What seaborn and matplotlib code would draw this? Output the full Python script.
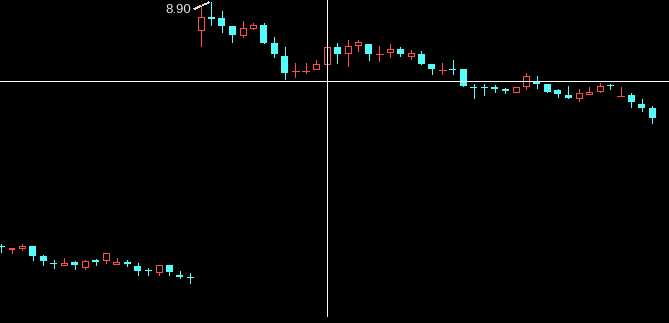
import numpy as np
import pandas as pd
import matplotlib
matplotlib.use("Agg")
import matplotlib.pyplot as plt
import seaborn as sns
from matplotlib.patches import Rectangle

# ---- data (price per candle) ----
opens = [6.46, 6.43, 6.44, 6.46, 6.36, 6.285, 6.27, 6.30, 6.25, 6.32,
         6.32, 6.28, 6.30, 6.26, 6.22, 6.20, 6.27, 6.17, 6.145, 8.62,
         8.75, 8.74, 8.66, 8.57, 8.64, 8.67, 8.49, 8.36, 8.21, 8.21,
         8.23, 8.28, 8.45, 8.39, 8.47, 8.48, 8.38, 8.40, 8.43, 8.36,
         8.38, 8.28, 8.22, 8.225, 8.23, 8.045, 8.05, 8.05, 8.03, 8.00,
         8.06, 8.11, 8.08, 8.02, 7.97, 7.94, 7.98, 8.01, 8.065, 7.96,
         7.97, 7.88, 7.84]
highs = [6.48, 6.44, 6.48, 6.46, 6.37, 6.32, 6.34, 6.31, 6.32, 6.33,
         6.39, 6.34, 6.32, 6.29, 6.24, 6.27, 6.27, 6.21, 6.19, 8.85,
         8.90, 8.81, 8.66, 8.71, 8.69, 8.69, 8.55, 8.45, 8.29, 8.29,
         8.32, 8.48, 8.49, 8.52, 8.52, 8.48, 8.46, 8.48, 8.45, 8.42,
         8.41, 8.28, 8.29, 8.32, 8.23, 8.08, 8.08, 8.07, 8.04, 8.05,
         8.19, 8.16, 8.08, 8.03, 8.06, 8.03, 8.05, 8.09, 8.08, 8.05,
         7.99, 7.93, 7.86]
lows = [6.40, 6.39, 6.42, 6.32, 6.27, 6.24, 6.27, 6.23, 6.23, 6.27,
        6.29, 6.28, 6.26, 6.17, 6.17, 6.17, 6.17, 6.14, 6.09, 8.46,
        8.67, 8.60, 8.50, 8.55, 8.63, 8.49, 8.35, 8.13, 8.15, 8.19,
        8.23, 8.28, 8.29, 8.26, 8.41, 8.32, 8.31, 8.35, 8.36, 8.33,
        8.28, 8.18, 8.18, 8.18, 8.06, 7.94, 7.97, 8.00, 7.99, 8.00,
        8.03, 8.04, 8.00, 7.95, 7.94, 7.91, 7.98, 8.00, 8.03, 7.96,
        7.85, 7.81, 7.69]
closes = [6.45, 6.44, 6.46, 6.36, 6.31, 6.28, 6.29, 6.27, 6.31, 6.30,
          6.39, 6.30, 6.28, 6.21, 6.215, 6.27, 6.20, 6.15, 6.14, 8.75,
          8.73, 8.66, 8.57, 8.64, 8.67, 8.49, 8.38, 8.19, 8.21, 8.21,
          8.28, 8.45, 8.38, 8.46, 8.50, 8.38, 8.38, 8.43, 8.38, 8.39,
          8.28, 8.23, 8.22, 8.22, 8.06, 8.04, 8.04, 8.03, 8.01, 8.05,
          8.16, 8.08, 8.00, 7.98, 7.94, 7.99, 8.00, 8.06, 8.06, 7.96,
          7.90, 7.84, 7.74]
cross_index = 31
cross_price = 8.11
peak_label = "8.90"

UP = "#FF4C4C"
DOWN = "#54FCFC"

sns.set_theme(style="dark", rc={"axes.facecolor": "black",
                                "figure.facecolor": "black"})
plt.rcParams['font.family'] = ['Liberation Sans', 'DejaVu Sans']

df = pd.DataFrame(dict(open=opens, high=highs, low=lows, close=closes))
df["idx"] = np.arange(len(df))
df["up"] = df["close"] >= df["open"]

W, H = 669, 323
fig = plt.figure(figsize=(W / 100, H / 100), dpi=100)
ax = fig.add_axes([0, 0, 1, 1])
ax.set_facecolor("black")

pxu = 10.5                     # pixels per candle slot
x0 = -1 / pxu
ax.set_xlim(x0, x0 + W / pxu)
ymax = 8.92
ax.set_ylim(ymax - 0.01 * H, ymax)
dx = 1 / pxu                   # one pixel in x data units
dy = 0.01                      # one pixel in y data units
lw = 0.72                      # one pixel in points

for r in df.itertuples():
    i = r.idx
    top = max(r.open, r.close)
    bot = min(r.open, r.close)
    if r.up:
        ax.vlines(i, top, r.high, color=UP, lw=lw, antialiased=False)
        ax.vlines(i, r.low, bot, color=UP, lw=lw, antialiased=False)
        if top - bot < dy:
            ax.hlines(top, i - 3.5 * dx, i + 3.5 * dx, color=UP, lw=lw,
                      antialiased=False)
        else:
            ax.add_patch(Rectangle((i - 3 * dx, bot), 6 * dx, top - bot,
                                   facecolor="black", edgecolor=UP, lw=lw,
                                   antialiased=False, zorder=3))
    else:
        ax.vlines(i, r.low, r.high, color=DOWN, lw=lw, antialiased=False)
        h = max(top - bot, dy)
        c = (top + bot) / 2
        ax.add_patch(Rectangle((i - 3.5 * dx, c - h / 2), 7 * dx, h,
                               facecolor=DOWN, edgecolor="none",
                               antialiased=False, zorder=3))

# crosshair
ax.axhline(cross_price, color="white", lw=lw, antialiased=False, zorder=5)
ax.vlines(cross_index, ymax - 0.01 * 316, ymax, color="white", lw=lw,
          antialiased=False, zorder=5)

# max-high annotation
imax = int(df["high"].idxmax())
ax.plot([imax - 17 * dx, imax - 1 * dx],
        [df["high"].max() - 7 * dy, df["high"].max()],
        color="#DDDDDD", lw=lw, ls=(0, (2, 1.5)), antialiased=False)
ax.text(imax - 19.5 * dx, df["high"].max() - 8 * dy, peak_label,
        color="#E0E0E0", fontsize=9.5, ha="right", va="center")

ax.set_xticks([])
ax.set_yticks([])
for s in ax.spines.values():
    s.set_visible(False)
ax.grid(False)

fig.savefig("out.png", dpi=100, facecolor="black")
